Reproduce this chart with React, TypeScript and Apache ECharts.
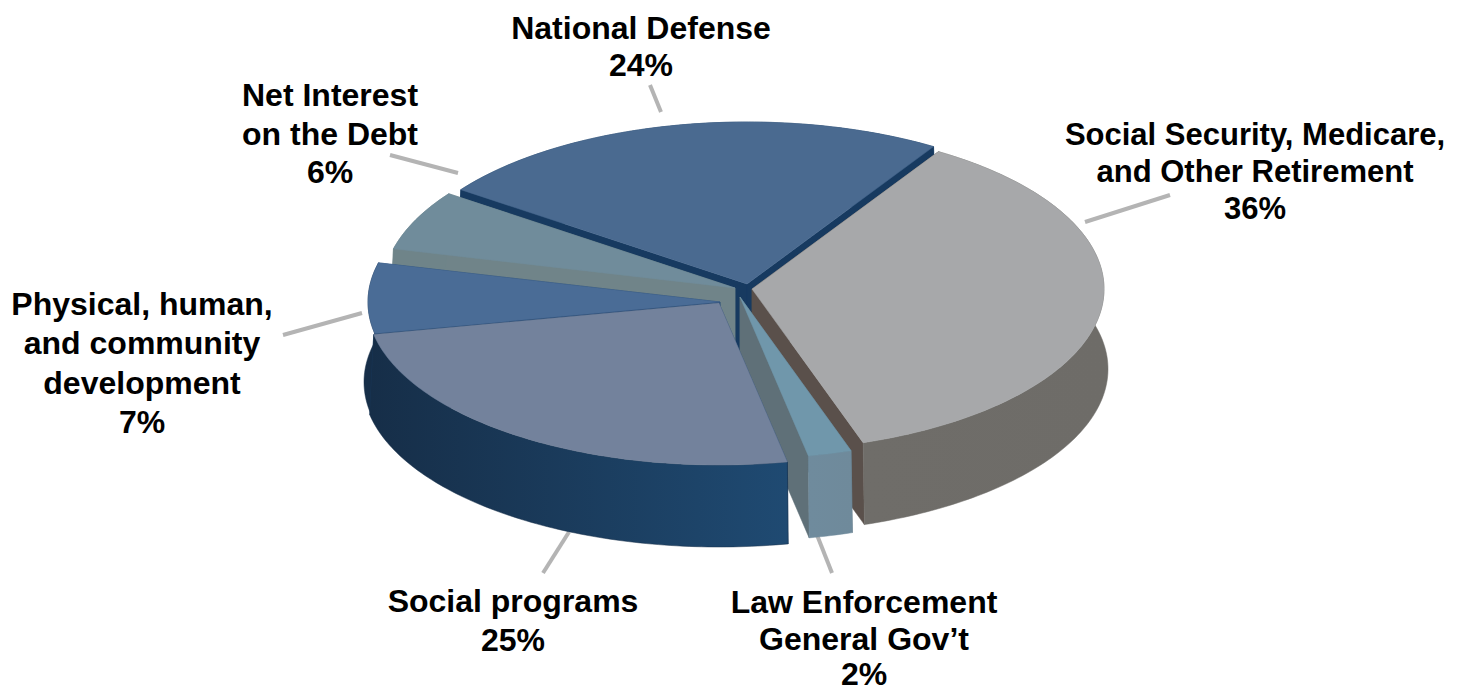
import React, { useEffect, useRef } from "react";
import * as echarts from "echarts";

const categories = [
  "Social Security, Medicare,\nand Other Retirement",
  "Law Enforcement\nGeneral Gov’t",
  "Social programs",
  "Physical, human,\nand community\ndevelopment",
  "Net Interest\non the Debt",
  "National Defense",
];
const shares = [36, 2, 25, 7, 6, 24];

// layout, index-aligned with categories
const startAngle = 32;
const centre = [735, 290];
const RX = 352;
const RY = 162;
const DEPTH = 80;
const BOTTOM_GROW = 4;
const explode = [[17, -1], [5, 7], [-16, 13], [-15, 12], [0, -2], [12, -6]];
const drawOrder = [5, 4, 3, 0, 1, 2];
const topColors = ["#a7a8aa", "#7097ab", "#73829c", "#4a6c96", "#708c9b", "#4a6a90"];
const wallColors = ["#5a504b", "#5f7078", "#1a3f66", "#1f4470", "#708489", "#173a60"];
const sideColors = [["#6f6d69", "#6e6c68"], ["#6f8b9d", "#6f8a9b"], ["#162e48", "#1f4a72"], ["#162e48", "#162e48"], ["#6f8489", "#6f8489"], ["#173a60", "#173a60"]];
const labelTops = [[1255, 116], [864, 583], [513, 581], [142, 284], [330, 76], [641, 9]];
const labelSizes = [31, 32, 32, 32, 32, 32];
const labelLines = [37, 37, 39, 39.5, 38.5, 37];
// the one percentage that sits against the bottom of the page is placed on its own
const detachedValue = 1;
const detachedValuePos = [864, 659];
const leaders = [
  [[1085, 222], [1170, 195]],
  [[817, 535], [832, 573]],
  [[569, 532], [543, 573]],
  [[362, 313], [283, 335]],
  [[458, 173], [390, 155]],
  [[661, 112], [650, 85]],
];

const total = shares.reduce((a, b) => a + b, 0);
const sliceStart = shares.map((_, i) => startAngle + (shares.slice(0, i).reduce((a, b) => a + b, 0) / total) * 360);
const sliceEnd = sliceStart.map((s, i) => s + (shares[i] / total) * 360);

function rim(ax: number, ay: number, deg: number, grow: number, drop: number) {
  const r = (deg * Math.PI) / 180;
  return [ax + (RX + grow) * Math.sin(r), ay - (RY + grow / 2) * Math.cos(r) + drop];
}

function arc(ax: number, ay: number, a0: number, a1: number, grow: number, drop: number) {
  const n = Math.max(2, Math.ceil(a1 - a0));
  const out: number[][] = [];
  for (let k = 0; k <= n; k++) out.push(rim(ax, ay, a0 + ((a1 - a0) * k) / n, grow, drop));
  return out;
}

function renderSlice(_: any, api: any) {
  const i = api.value(0);
  const a0 = sliceStart[i];
  const a1 = sliceEnd[i];
  const ax = centre[0] + explode[i][0];
  const ay = centre[1] + explode[i][1];
  const apex = [ax, ay];
  const apexDown = [ax, ay + DEPTH];
  const wall = (deg: number) => ({
    type: "polygon",
    shape: { points: [apex, rim(ax, ay, deg, 0, 0), rim(ax, ay, deg, BOTTOM_GROW, DEPTH), apexDown] },
    style: { fill: wallColors[i], stroke: wallColors[i], lineWidth: 0.5 },
  });
  const side = {
    type: "polygon",
    shape: { points: [...arc(ax, ay, a0, a1, 0, 0), ...arc(ax, ay, a0, a1, BOTTOM_GROW, DEPTH).reverse()] },
    style: {
      fill: new echarts.graphic.LinearGradient(1, 0, 0, 0, [
        { offset: 0, color: sideColors[i][1] },
        { offset: 1, color: sideColors[i][0] },
      ]),
      stroke: sideColors[i][0],
      lineWidth: 0.5,
    },
  };
  const top = {
    type: "polygon",
    shape: { points: [apex, ...arc(ax, ay, a0, a1, 0, 0)] },
    style: { fill: topColors[i], stroke: topColors[i], lineWidth: 0.5 },
  };
  return { type: "group", children: [wall(a0), wall(a1), side, top] };
}

export default function App() {
  const ref = useRef<HTMLDivElement>(null);
  useEffect(() => {
    const chart = echarts.init(ref.current!, undefined, { renderer: "svg" });
    const textStyle = (i: number, text: string) => ({
      text,
      fill: "#000000",
      font: `bold ${labelSizes[i]}px "Liberation Sans", Arial, sans-serif`,
      lineHeight: labelLines[i],
      align: "center",
      verticalAlign: "top",
    });
    const texts = categories.map((c, i) => ({
      type: "text",
      x: labelTops[i][0],
      y: labelTops[i][1],
      style: textStyle(i, i === detachedValue ? c : `${c}\n${shares[i]}%`),
    }));
    const loose = {
      type: "text",
      x: detachedValuePos[0],
      y: detachedValuePos[1],
      style: { ...textStyle(detachedValue, `${shares[detachedValue]}%`), lineHeight: 30 },
    };
    const lines = leaders.map((l) => ({
      type: "line",
      shape: { x1: l[0][0], y1: l[0][1], x2: l[1][0], y2: l[1][1] },
      style: { stroke: "#b4b4b4", lineWidth: 4 },
    }));
    chart.setOption({
      animation: false,
      backgroundColor: "#ffffff",
      graphic: [...lines, ...texts, loose],
      series: [
        {
          type: "custom",
          coordinateSystem: "none",
          renderItem: renderSlice,
          data: drawOrder.map((i) => [i, shares[i]]),
          silent: true,
        },
      ],
    });
    return () => chart.dispose();
  }, []);
  return <div ref={ref} style={{ position: "absolute", left: 0, top: 0, width: 1462, height: 692 }} />;
}
